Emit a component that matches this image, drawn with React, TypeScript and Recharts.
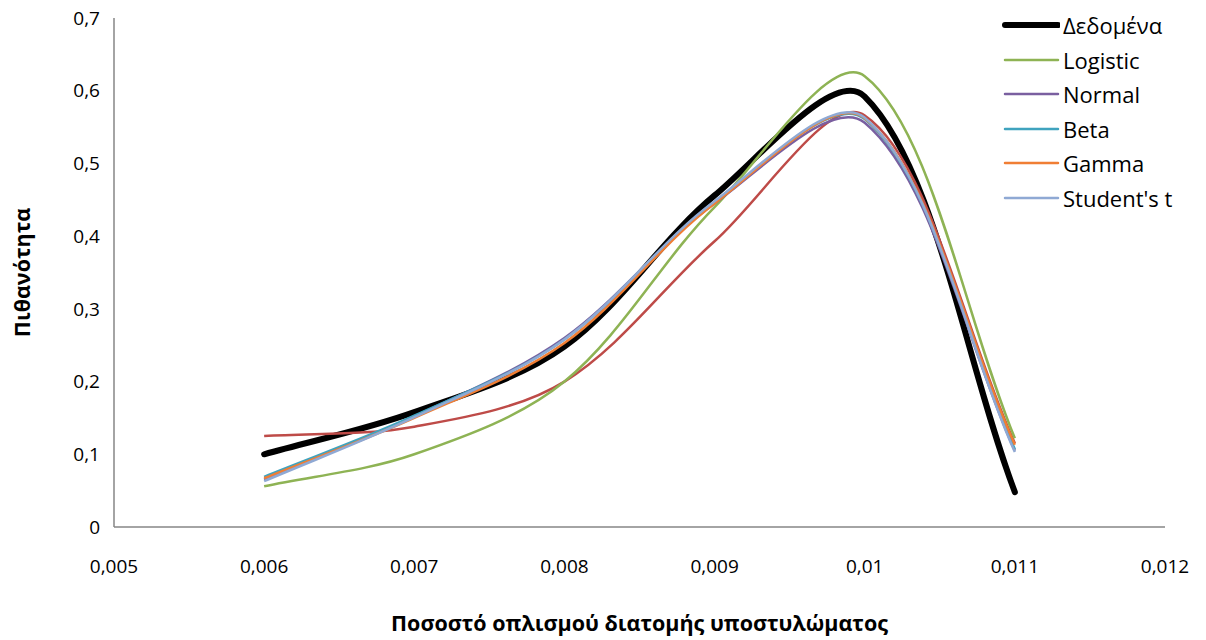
import React from 'react';
import { LineChart, Line, XAxis, YAxis, Legend, Label } from 'recharts';

const xValues = [0.006, 0.007, 0.008, 0.009, 0.01, 0.011];
const dataSeries = [0.1, 0.158, 0.248, 0.456, 0.592, 0.048];
const hiddenSeries = [0.125, 0.138, 0.2, 0.393, 0.566, 0.115];
const logistic = [0.056, 0.1, 0.2, 0.44, 0.62, 0.122];
const normal = [0.065, 0.152, 0.26, 0.445, 0.556, 0.105];
const beta = [0.069, 0.153, 0.258, 0.447, 0.561, 0.107];
const gamma = [0.067, 0.15, 0.253, 0.445, 0.562, 0.113];
const studentT = [0.063, 0.151, 0.258, 0.448, 0.563, 0.103];

const legendOrder = ['Δεδομένα', 'Logistic', 'Normal', 'Beta', 'Gamma', "Student's t"];
const xTicks = [0.005, 0.006, 0.007, 0.008, 0.009, 0.01, 0.011, 0.012];
const yTicks = [0, 0.1, 0.2, 0.3, 0.4, 0.5, 0.6, 0.7];

const table = xValues.map((x, i) => ({
  x,
  data: dataSeries[i],
  hidden: hiddenSeries[i],
  logistic: logistic[i],
  normal: normal[i],
  beta: beta[i],
  gamma: gamma[i],
  studentT: studentT[i],
}));

// Excel-like smoothed line: Bezier with chord-length scaled tangents
const smoothCurve: any = (context: any) => {
  let pts: number[][] = [];
  const dist = (a: number[], b: number[]) => Math.hypot(b[0] - a[0], b[1] - a[1]);
  return {
    areaStart() {},
    areaEnd() {},
    lineStart() {
      pts = [];
    },
    point(x: number, y: number) {
      pts.push([+x, +y]);
    },
    lineEnd() {
      if (!pts.length) return;
      context.moveTo(pts[0][0], pts[0][1]);
      for (let i = 0; i < pts.length - 1; i++) {
        const p0 = pts[i - 1] || pts[i];
        const p1 = pts[i];
        const p2 = pts[i + 1];
        const p3 = pts[i + 2] || p2;
        const d01 = dist(p0, p1);
        const d12 = dist(p1, p2);
        const d23 = dist(p2, p3);
        const s1 = d12 / (d01 + d12 || 1) / 3;
        const s2 = d12 / (d12 + d23 || 1) / 3;
        const c1x = p1[0] + (p2[0] - p0[0]) * s1;
        const c1y = p1[1] + (p2[1] - p0[1]) * s1;
        const c2x = p2[0] - (p3[0] - p1[0]) * s2;
        const c2y = p2[1] - (p3[1] - p1[1]) * s2;
        context.bezierCurveTo(c1x, c1y, c2x, c2y, p2[0], p2[1]);
      }
    },
  };
};

const fmt = (v: number) => String(v).replace('.', ',');
const FONT = '"Open Sans", sans-serif';

const LegendContent = (props: any) => {
  const items = (props.payload || [])
    .filter((p: any) => p.type !== 'none')
    .sort((a: any, b: any) => legendOrder.indexOf(a.value) - legendOrder.indexOf(b.value));
  return (
    <div style={{ fontFamily: FONT, fontSize: 22, color: '#000', lineHeight: 1 }}>
      {items.map((p: any) => (
        <div key={p.value} style={{ display: 'flex', alignItems: 'center', height: 34.5 }}>
          <svg width={60} height={10} style={{ marginRight: 3, flex: 'none' }}>
            <line
              x1={5}
              y1={5}
              x2={58}
              y2={5}
              stroke={p.color}
              strokeWidth={p.value === 'Δεδομένα' ? 6 : 2.5}
              strokeLinecap="round"
            />
          </svg>
          <span style={{ whiteSpace: 'nowrap' }}>{p.value}</span>
        </div>
      ))}
    </div>
  );
};

export default function App() {
  return (
    <div style={{ position: 'absolute', left: 0, top: 0, width: 1206, height: 640, background: '#fff' }}>
      <LineChart
        width={1206}
        height={640}
        data={table}
        margin={{ top: 18, right: 41, left: 0, bottom: 0 }}
      >
        <XAxis
          dataKey="x"
          type="number"
          domain={[0.005, 0.012]}
          ticks={xTicks}
          tickFormatter={fmt}
          tickLine={false}
          tickSize={0}
          tickMargin={33}
          axisLine={{ stroke: '#868686', strokeWidth: 1.5 }}
          tick={{ fill: '#000', fontSize: 19, fontFamily: FONT }}
          height={113}
          interval={0}
        >
          <Label
            value="Ποσοστό οπλισμού διατομής υποστυλώματος"
            position="insideBottom"
            offset={9}
            style={{ fontFamily: FONT, fontSize: 21.5, fontWeight: 700, fill: '#000' }}
          />
        </XAxis>
        <YAxis
          type="number"
          domain={[0, 0.7]}
          ticks={yTicks}
          tickFormatter={fmt}
          tickLine={false}
          tickSize={0}
          tickMargin={14}
          axisLine={{ stroke: '#868686', strokeWidth: 1.5 }}
          tick={{ fill: '#000', fontSize: 19, fontFamily: FONT }}
          width={114}
          interval={0}
        >
          <Label
            value="Πιθανότητα"
            angle={-90}
            position="insideLeft"
            offset={22}
            style={{ fontFamily: FONT, fontSize: 21.5, fontWeight: 700, fill: '#000', textAnchor: 'middle' }}
          />
        </YAxis>
        <Legend
          layout="vertical"
          align="center"
          verticalAlign="middle"
          content={<LegendContent />}
          wrapperStyle={{ position: 'absolute', left: 1000, top: 8, width: 206 }}
        />
        <Line dataKey="data" name="Δεδομένα" type={smoothCurve} stroke="#000000" strokeWidth={6} dot={false} isAnimationActive={false} strokeLinecap="round" />
        <Line dataKey="hidden" name="Σειρά2" type={smoothCurve} stroke="#BE4B48" strokeWidth={2.5} dot={false} isAnimationActive={false} legendType="none" />
        <Line dataKey="logistic" name="Logistic" type={smoothCurve} stroke="#8EB354" strokeWidth={2.5} dot={false} isAnimationActive={false} />
        <Line dataKey="normal" name="Normal" type={smoothCurve} stroke="#7A5FA0" strokeWidth={2.5} dot={false} isAnimationActive={false} />
        <Line dataKey="beta" name="Beta" type={smoothCurve} stroke="#3FA3BE" strokeWidth={2.5} dot={false} isAnimationActive={false} />
        <Line dataKey="gamma" name="Gamma" type={smoothCurve} stroke="#F07E34" strokeWidth={2.5} dot={false} isAnimationActive={false} />
        <Line dataKey="studentT" name="Student's t" type={smoothCurve} stroke="#8FA9D4" strokeWidth={2.5} dot={false} isAnimationActive={false} />
      </LineChart>
    </div>
  );
}
